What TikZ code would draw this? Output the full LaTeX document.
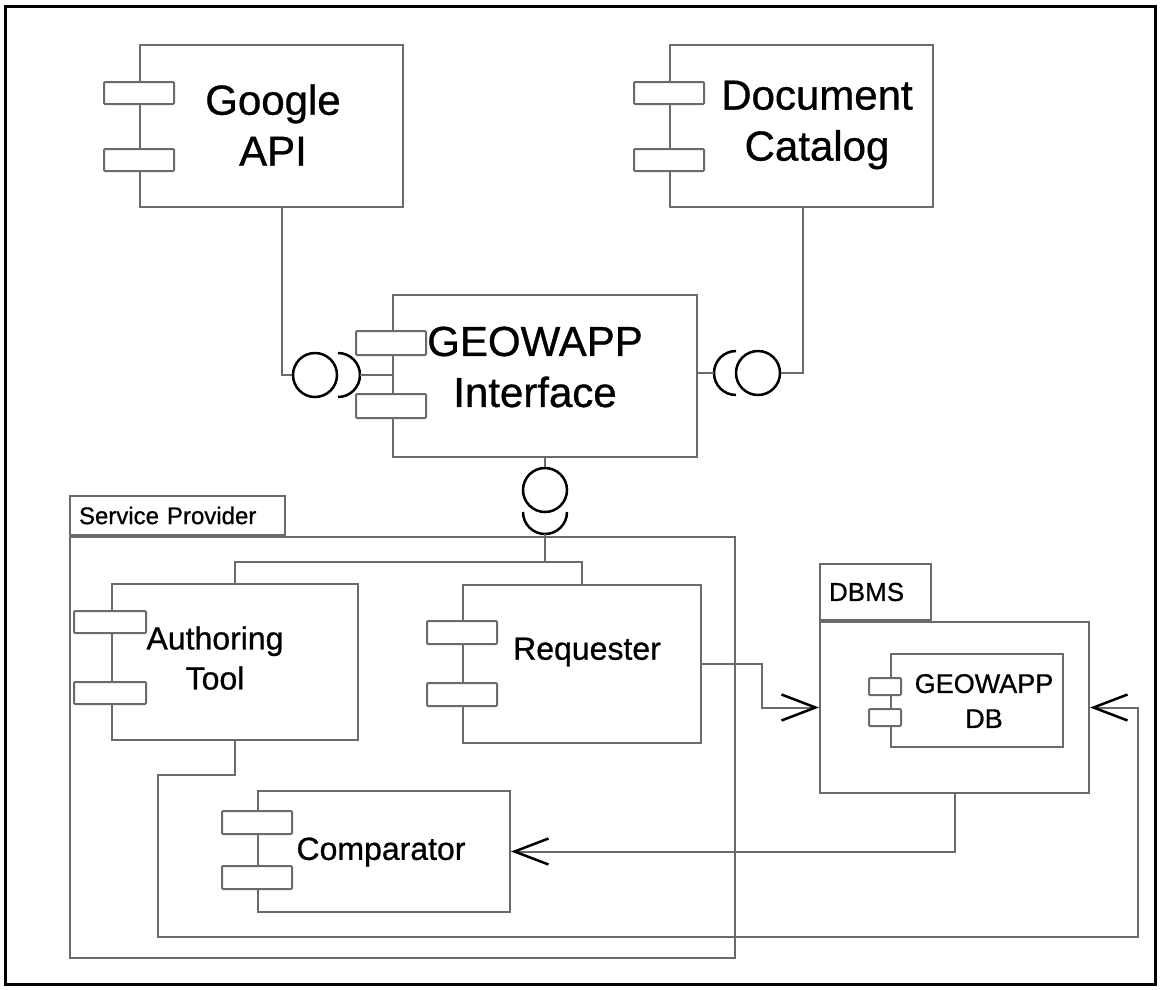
\documentclass[tikz,border=0pt]{standalone}
\usepackage{fontspec}
\setmainfont{Liberation Sans}[FakeBold=0.8]
\usetikzlibrary{calc,arrows.meta}
\definecolor{linegray}{HTML}{6B6B6B}

\tikzset{
  compbox/.style={draw=linegray, line width=2pt, inner sep=0pt},
  port/.style={draw=linegray, line width=2pt, fill=white, rounded corners=1pt},
  wire/.style={draw=linegray, line width=2pt},
  ball/.style={circle, draw=black, line width=2.5pt, minimum size=44pt, inner sep=0pt},
  cup/.style={draw=black, line width=2.5pt},
  pkgbody/.style={draw=linegray, line width=2pt, inner sep=0pt},
  pkgtab/.style={draw=linegray, line width=2pt, anchor=south west, inner xsep=9pt, inner ysep=0pt, align=left},
  bigtxt/.style={font=\fontsize{42}{51}\selectfont, align=center},
  midtxt/.style={font=\fontsize{32}{40}\selectfont, align=center},
  smalltxt/.style={font=\fontsize{27}{35}\selectfont, align=center},
  openarrow/.style={-{Straight Barb[length=34pt,width=26pt,line width=2.5pt,color=black]}}
}

\begin{document}
\begin{tikzpicture}[x=1pt,y=-1pt]
\useasboundingbox (0,0) rectangle (1160,989);
\draw[line width=3pt] (5,6) rectangle (1155,984);

% packages
\node[pkgbody, minimum width=665, minimum height=421] (sp) at (402.5,747.5) {};
\node[pkgtab, text width=197pt, minimum height=39, font=\fontsize{24}{28}\selectfont] (sptab) at (sp.north west) {Service Provider};
\node[pkgbody, minimum width=269, minimum height=171] (dbms) at (954.5,707.5) {};
\node[pkgtab, text width=93pt, minimum height=56, font=\fontsize{26}{30}\selectfont] (dbmstab) at (dbms.north west) {DBMS};

% components
\node[compbox, minimum width=263, minimum height=162] (google) at (271.5,126) {};
\node[compbox, minimum width=263, minimum height=162] (catalog) at (801.5,126) {};
\node[compbox, minimum width=304, minimum height=162] (iface) at (545,376) {};
\node[compbox, minimum width=246, minimum height=156] (auth) at (235,662) {};
\node[compbox, minimum width=238, minimum height=158] (req) at (582,664) {};
\node[compbox, minimum width=252, minimum height=121] (cmp) at (384,851.5) {};
\node[compbox, minimum width=172, minimum height=93] (db) at (977,700.5) {};

\draw[port] ($(google.north west)+(-35,38)$) rectangle ++(70,22);
\draw[port] ($(google.north west)+(-35,105)$) rectangle ++(70,22);
\draw[port] ($(catalog.north west)+(-35,38)$) rectangle ++(70,22);
\draw[port] ($(catalog.north west)+(-35,105)$) rectangle ++(70,22);
\draw[port] ($(iface.north west)+(-36,37)$) rectangle ++(70,24);
\draw[port] ($(iface.north west)+(-36,100)$) rectangle ++(70,24);
\draw[port] ($(auth.north west)+(-37,28)$) rectangle ++(72,22);
\draw[port] ($(auth.north west)+(-37,99)$) rectangle ++(72,22);
\draw[port] ($(req.north west)+(-35,37)$) rectangle ++(70,23);
\draw[port] ($(req.north west)+(-35,99)$) rectangle ++(70,23);
\draw[port] ($(cmp.north west)+(-35,21)$) rectangle ++(70,23);
\draw[port] ($(cmp.north west)+(-35,76)$) rectangle ++(70,23);
\draw[port] ($(db.north west)+(-21,25)$) rectangle ++(32,17);
\draw[port] ($(db.north west)+(-21,56)$) rectangle ++(32,17);

\node[bigtxt] (googletxt) at (273,125) {Google\\API};
\node[bigtxt] (catalogtxt) at (817,125) {Document\\Catalog};
\node[bigtxt] (ifacetxt) at (535,367) {GEOWAPP\\Interface};
\node[midtxt] (authtxt) at (215,658) {Authoring\\Tool};
\node[midtxt] (reqtxt) at (587,652) {Requester};
\node[midtxt] (cmptxt) at (381,852) {Comparator};
\node[smalltxt] (dbtxt) at (984,701) {GEOWAPP\\DB};

% interfaces
\node[ball] (gball) at (315,375) {};
\draw[cup] ($(gball.center)+(23,-22)$) arc[start angle=-90, end angle=90, radius=22];
\coordinate (gcup) at ($(gball.center)+(45,0)$);
\draw[wire] ([xshift=10pt]google.south) |- (gball.west);
\draw[wire] (gcup) -- (gcup -| iface.west);

\node[ball] (cball) at (758,373) {};
\draw[cup] ($(cball.center)+(-22,22)$) arc[start angle=90, end angle=270, radius=22];
\coordinate (ccup) at ($(cball.center)+(-44,0)$);
\draw[wire] ([xshift=1.5pt]catalog.south) |- (cball.east);
\draw[wire] (ccup) -- (ccup -| iface.east);

\node[ball] (iball) at (545,490) {};
\draw[cup] ($(iball.center)+(22,22)$) arc[start angle=0, end angle=180, radius=22];
\coordinate (icup) at ($(iball.center)+(0,44)$);
\coordinate (fork) at (545,562);
\draw[wire] (iface.south) -- (iball.north);
\draw[wire] (icup) -- (fork);
\draw[wire] (auth.north) |- (fork) -| (req.north);

% dependencies
\coordinate (rbend) at (762,707.5);
\draw[wire,openarrow] (req.east) -| (rbend) -- (dbms.west);
\draw[wire,openarrow] (dbms.south) |- (cmp.east);
\coordinate (la) at (158,775);
\coordinate (lb) at (1138,937);
\draw[wire,openarrow] (auth.south) |- (la) |- (lb) |- (dbms.east);

\end{tikzpicture}
\end{document}
